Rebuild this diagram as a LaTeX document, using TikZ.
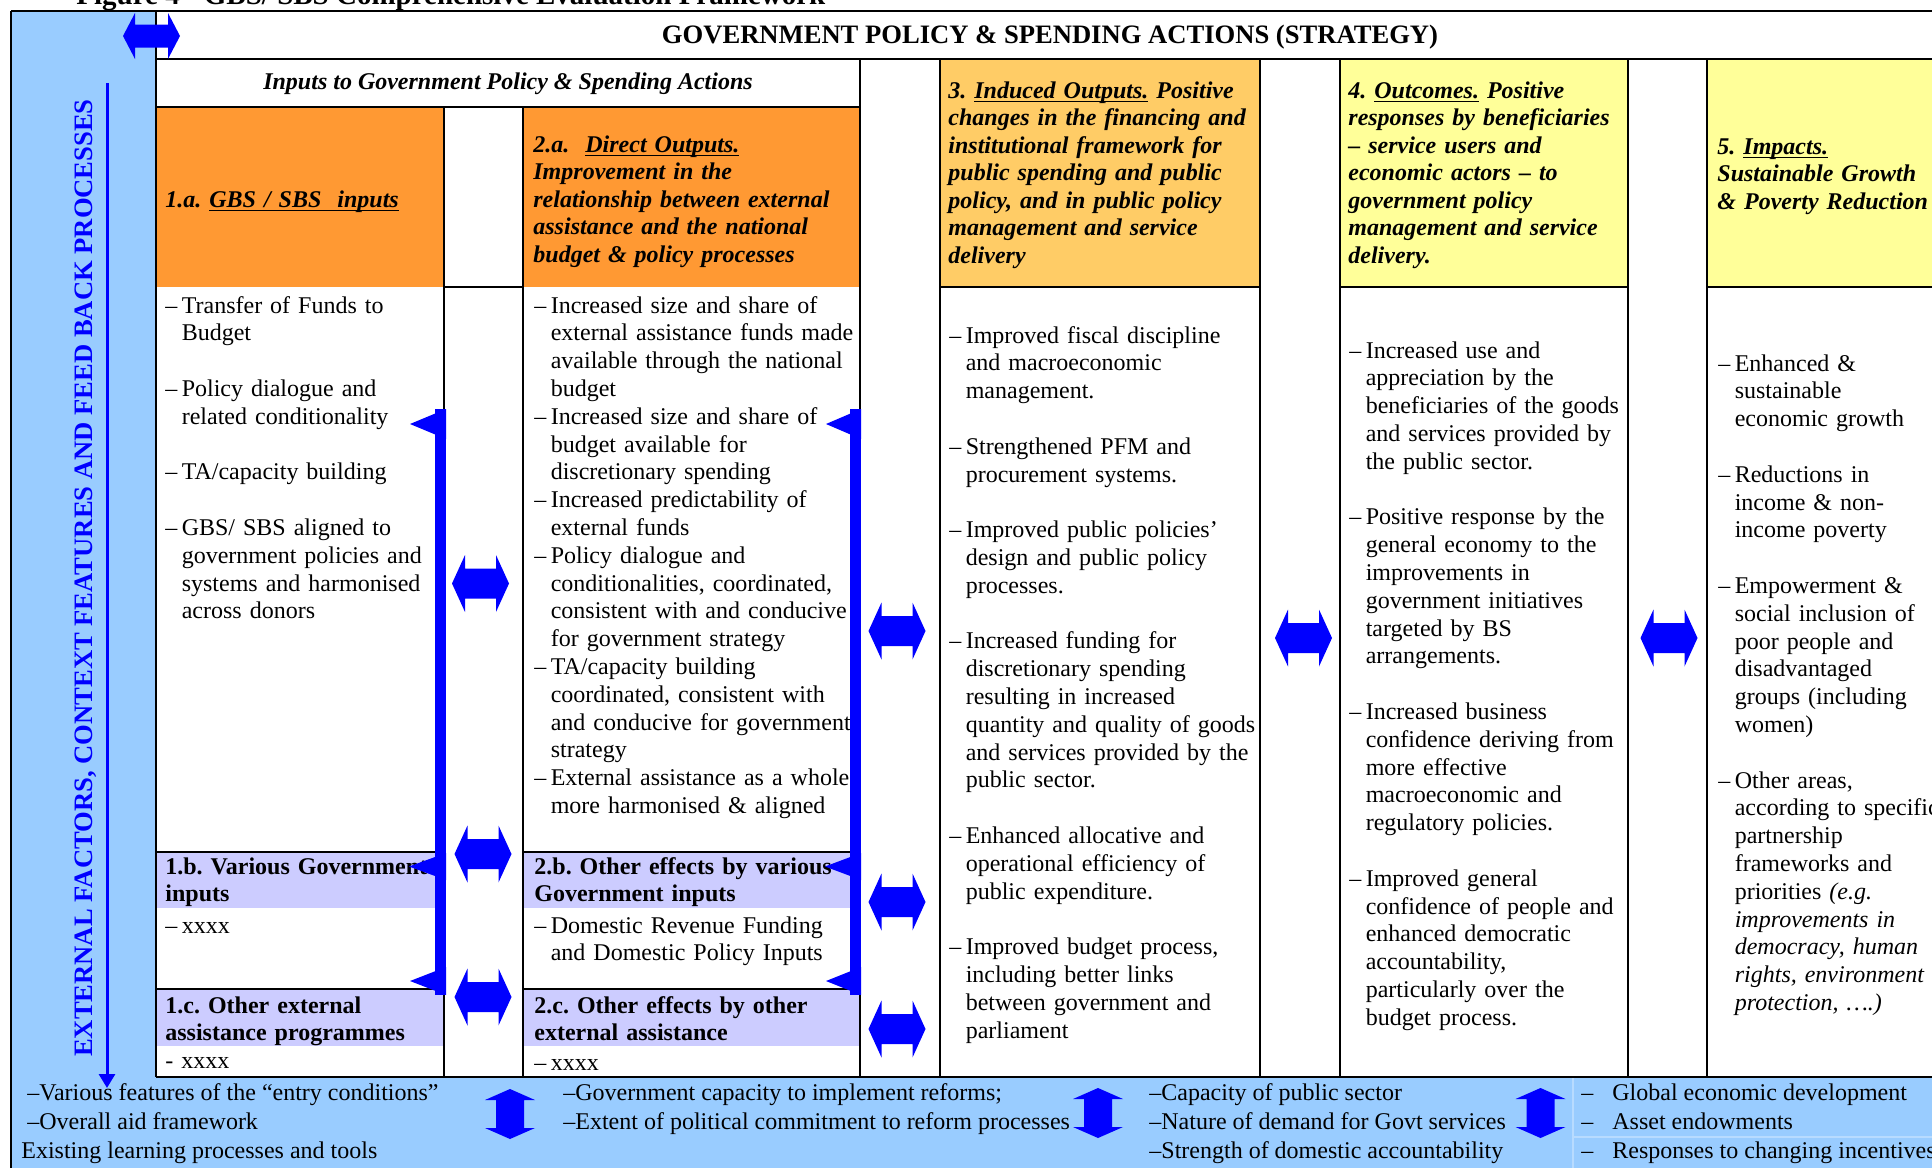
\documentclass[tikz,border=0pt]{standalone}
\usepackage{fontspec}
\setmainfont{Liberation Serif}
\usetikzlibrary{arrows.meta,calc}
\definecolor{lblue}{HTML}{99CCFF}
\definecolor{orA}{HTML}{FF9933}
\definecolor{orB}{HTML}{FFCC66}
\definecolor{yelC}{HTML}{FFFF99}
\definecolor{lav}{HTML}{CCCCFF}
\definecolor{ablue}{HTML}{0000FF}
\frenchspacing
\newcommand\bodyf{\fontsize{12}{13.9}\selectfont}
\newcommand\hdrf{\fontsize{12}{13.75}\selectfont\bfseries\itshape}
\newcommand\subf{\fontsize{12}{13.75}\selectfont\bfseries}
\newcommand\bigf{\fontsize{13.3}{16}\selectfont\bfseries}
\newcommand\litem[1]{\noindent\hangindent=8.2pt\hangafter=1\makebox[8.2pt][l]{–}#1\par}
\newcommand\blankln{\vspace{13.9pt}}
\newcommand\ul[1]{\setbox0\hbox{#1}\rlap{\rule[-2.2pt]{\wd0}{0.9pt}}\box0\relax}
% horizontal double block arrow: name, x, y, half length, head length, half height, shaft half height
\newcommand\harr[7]{%
  \coordinate (#1) at (#2,#3);
  \fill[ablue] (#1) ++(-#4,0) -- ++(#5,-#6) -- ++(0,{#6-#7}) -- ++({2*#4-2*#5},0) -- ++(0,{#7-#6})
     -- ++(#5,#6) -- ++(-#5,#6) -- ++(0,{#7-#6}) -- ++({-2*#4+2*#5},0) -- ++(0,{#6-#7}) -- cycle;}
% vertical double block arrow
\newcommand\varr[7]{%
  \coordinate (#1) at (#2,#3);
  \fill[ablue] (#1) ++(0,-#4) -- ++(-#6,#5) -- ++({#6-#7},0) -- ++(0,{2*#4-2*#5}) -- ++({#7-#6},0)
     -- ++(#6,#5) -- ++(#6,-#5) -- ++({#7-#6},0) -- ++(0,{-2*#4+2*#5}) -- ++({#6-#7},0) -- cycle;}
% bracket bar with three left-pointing barbs: name, right x, tip offset
\newcommand\bracketbar[3]{%
  \coordinate (#1) at (#2,409);
  \fill[ablue] (#1) ++(-11,0) rectangle ++(11,586);
  \fill[ablue] (#1) -- ++(-#3,15) -- ++(#3,15) -- cycle;
  \fill[ablue] (#1) ++(0,444) -- ++({-#3-1},13.5) -- ++({#3+1},13.5) -- cycle;
  \fill[ablue] (#1) ++(0,558) -- ++(-#3,14) -- ++(#3,14) -- cycle;}
\begin{document}
\begin{tikzpicture}[x=0.5pt,y=-0.5pt,
  hl/.style={line width=1.4pt},
  vl/.style={line width=0.9pt},
  bodyn/.style={anchor=base west,inner sep=0pt,text width=180pt,font=\bodyf},
  hdrn/.style={anchor=base west,inner sep=0pt,text width=180pt,font=\hdrf},
  subn/.style={anchor=base west,inner sep=0pt,text width=180pt,font=\subf},
  btxt/.style={anchor=base west,inner sep=0pt,font=\bodyf}]
\useasboundingbox (0,0) rectangle (1932,1167);
% ---------- backgrounds
\fill[lblue] (11,11) rectangle (156,1180);
\fill[lblue] (11,1077) rectangle (1990,1180);
\fill[orA] (156,107) rectangle (444,287);
\fill[orA] (523,107) rectangle (860,287);
\fill[orB] (940,59) rectangle (1260,287);
\fill[yelC] (1340,59) rectangle (1628,287);
\fill[yelC] (1707,59) rectangle (1990,287);
\fill[lav] (156,852) rectangle (444,908);
\fill[lav] (156,989) rectangle (444,1046);
\fill[lav] (523,852) rectangle (860,908);
\fill[lav] (523,989) rectangle (860,1046);
% faint cell lines in bottom band
\draw[lblue!70!white,line width=0.6pt] (1573,1077) -- (1573,1180) (1573,1137) -- (1990,1137);
% ---------- frame lines
\draw[hl] (11,11) -- (1990,11);
\draw[hl] (156,59) -- (1990,59);
\draw[hl] (156,107) -- (860,107);
\draw[hl] (444,287) -- (523,287);
\draw[hl] (940,287) -- (1260,287) (1340,287) -- (1628,287) (1707,287) -- (1990,287);
\draw[hl] (156,852) -- (444,852) (523,852) -- (860,852);
\draw[hl] (156,989) -- (444,989) (523,989) -- (860,989);
\draw[hl] (156,1077) -- (1990,1077);
\draw[vl] (11,11) -- (11,1180);
\draw[vl] (156,11) -- (156,1077);
\draw[vl] (444,107) -- (444,1077) (523,107) -- (523,1077);
\draw[vl] (860,59) -- (860,1077) (940,59) -- (940,1077);
\draw[vl] (1260,59) -- (1260,1077) (1340,59) -- (1340,1077);
\draw[vl] (1628,59) -- (1628,1077) (1707,59) -- (1707,1077);
% ---------- titles
\node[anchor=base west,inner sep=0pt,font=\fontsize{14.5}{17}\selectfont\bfseries] (fig) at (76,4) {Figure 4 - GBS/ SBS Comprehensive Evaluation Framework};
\node[anchor=base,inner sep=0pt,font=\bigf] (title) at (1050,43) {GOVERNMENT POLICY \& SPENDING ACTIONS (STRATEGY)};
\node[anchor=base,inner sep=0pt,rotate=90,font=\bigf,text=ablue] (ext) at (92,578) {EXTERNAL FACTORS, CONTEXT FEATURES AND FEED BACK PROCESSES};
\coordinate (vtop) at (107,83);
\coordinate (vbot) at (107,1088);
\draw[ablue,line width=1.5pt,-{Triangle[width=8pt,length=7pt]}] (vtop) -- (vbot);
\node[anchor=base,inner sep=0pt,font=\hdrf] (hin) at (508,89) {Inputs to Government Policy \& Spending Actions};
% ---------- headers
\node[hdrn] (h1a) at (165,207) {1.a. \ul{GBS / SBS\ \ inputs}\par};
\node[hdrn] (h2a) at (533,152) {2.a.\ \ \ul{Direct Outputs.}\newline Improvement in the\newline relationship between external\newline assistance and the national\newline budget \& policy processes\par};
\node[hdrn] (h3) at (948,98) {3. \ul{Induced Outputs.} Positive\newline changes in the financing and\newline institutional framework for\newline public spending and public\newline policy, and in public policy\newline management and service\newline delivery\par};
\node[hdrn] (h4) at (1348,98) {4. \ul{Outcomes.} Positive\newline responses by beneficiaries\newline – service users and\newline economic actors – to\newline government policy\newline management and service\newline delivery.\par};
\node[hdrn] (h5) at (1717,154) {5. \ul{Impacts.}\newline Sustainable Growth\newline \& Poverty Reduction\par};
% ---------- bodies
\node[bodyn] (b1a) at (165,313) {\litem{Transfer of Funds to\newline Budget}\blankln
 \litem{Policy dialogue and\newline related conditionality}\blankln
 \litem{TA/capacity building}\blankln
 \litem{GBS/ SBS aligned to\newline government policies and\newline systems and harmonised\newline across donors}};
\node[bodyn] (b2a) at (534,313) {\litem{Increased size and share of\newline external assistance funds made\newline available through the national\newline budget}
 \litem{Increased size and share of\newline budget available for\newline discretionary spending}
 \litem{Increased predictability of\newline external funds}
 \litem{Policy dialogue and\newline conditionalities, coordinated,\newline consistent with and conducive\newline for government strategy}
 \litem{TA/capacity building\newline coordinated, consistent with\newline and conducive for government\newline strategy}
 \litem{External assistance as a whole\newline more harmonised \& aligned}};
\node[bodyn] (b3) at (949,343) {\litem{Improved fiscal discipline\newline and macroeconomic\newline management.}\blankln
 \litem{Strengthened PFM and\newline procurement systems.}\blankln
 \litem{Improved public policies’\newline design and public policy\newline processes.}\blankln
 \litem{Increased funding for\newline discretionary spending\newline resulting in increased\newline quantity and quality of goods\newline and services provided by the\newline public sector.}\blankln
 \litem{Enhanced allocative and\newline operational efficiency of\newline public expenditure.}\blankln
 \litem{Improved budget process,\newline including better links\newline between government and\newline parliament}};
\node[bodyn] (b4) at (1349,358) {\litem{Increased use and\newline appreciation by the\newline beneficiaries of the goods\newline and services provided by\newline the public sector.}\blankln
 \litem{Positive response by the\newline general economy to the\newline improvements in\newline government initiatives\newline targeted by BS\newline arrangements.}\blankln
 \litem{Increased business\newline confidence deriving from\newline more effective\newline macroeconomic and\newline regulatory policies.}\blankln
 \litem{Improved general\newline confidence of people and\newline enhanced democratic\newline accountability,\newline particularly over the\newline budget process.}};
\node[bodyn] (b5) at (1718,371) {\litem{Enhanced \&\newline sustainable\newline economic growth}\blankln
 \litem{Reductions in\newline income \& non-\newline income poverty}\blankln
 \litem{Empowerment \&\newline social inclusion of\newline poor people and\newline disadvantaged\newline groups (including\newline women)}\blankln
 \litem{Other areas,\newline according to specific\newline partnership\newline frameworks and\newline priorities \textit{(e.g.}\newline \textit{improvements in}\newline \textit{democracy, human}\newline \textit{rights, environment}\newline \textit{protection, ….)}}};
% ---------- sub rows
\node[subn] (h1b) at (165,874) {1.b. Various Government\newline inputs\par};
\node[bodyn] (b1b) at (165,933) {\litem{xxxx}};
\node[subn] (h1c) at (165,1013) {1.c. Other external\newline assistance programmes\par};
\node[bodyn] (b1c) at (165,1068) {- xxxx};
\node[subn] (h2b) at (534,874) {2.b. Other effects by various\newline Government inputs\par};
\node[bodyn] (b2b) at (534,933) {\litem{Domestic Revenue Funding\newline and Domestic Policy Inputs}};
\node[subn] (h2c) at (534,1013) {2.c. Other effects by other\newline external assistance\par};
\node[bodyn] (b2c) at (534,1070) {\litem{xxxx}};
% ---------- bottom band
\node[btxt] (ta1) at (27,1100) {–Various features of the “entry conditions”};
\node[btxt] (ta2) at (27,1129) {–Overall aid framework};
\node[btxt] (ta3) at (21,1158) {Existing learning processes and tools};
\node[btxt] (tb1) at (563,1100) {–Government capacity to implement reforms;};
\node[btxt] (tb2) at (563,1129) {–Extent of political commitment to reform processes};
\node[btxt] (tc1) at (1149,1100) {–Capacity of public sector};
\node[btxt] (tc2) at (1149,1129) {–Nature of demand for Govt services};
\node[btxt] (tc3) at (1149,1158) {–Strength of domestic accountability};
\node[btxt] (td1) at (1581,1100) {\makebox[15.5pt][l]{–}Global economic development};
\node[btxt] (td2) at (1581,1129) {\makebox[15.5pt][l]{–}Asset endowments};
\node[btxt] (td3) at (1581,1158) {\makebox[15.5pt][l]{–}Responses to changing incentives};
% ---------- blue arrows
\bracketbar{barA}{446}{36}
\bracketbar{barB}{861}{35}
\harr{aTop}{151.5}{36}{28.5}{12}{23}{11.5}
\harr{aG1}{480.5}{583.5}{28.5}{13}{28.5}{15}
\harr{aG2}{483}{854}{28.5}{13}{28.5}{15}
\harr{aG3}{483}{997}{28.5}{13}{28.5}{15}
\harr{aG4}{897}{631}{28.5}{13}{28.5}{15}
\harr{aG5}{897}{902}{28.5}{13}{28.5}{15}
\harr{aG6}{897}{1029}{28.5}{13}{28.5}{15}
\harr{aG7}{1303.5}{638}{28.5}{13}{28.5}{15}
\harr{aG8}{1669}{638}{28.5}{13}{28.5}{15}
\varr{vA}{510}{1114}{25}{11}{25}{14}
\varr{vB}{1098}{1113}{25}{11}{25}{14}
\varr{vC}{1540.5}{1113}{25}{11}{25}{14}
\end{tikzpicture}
\end{document}
